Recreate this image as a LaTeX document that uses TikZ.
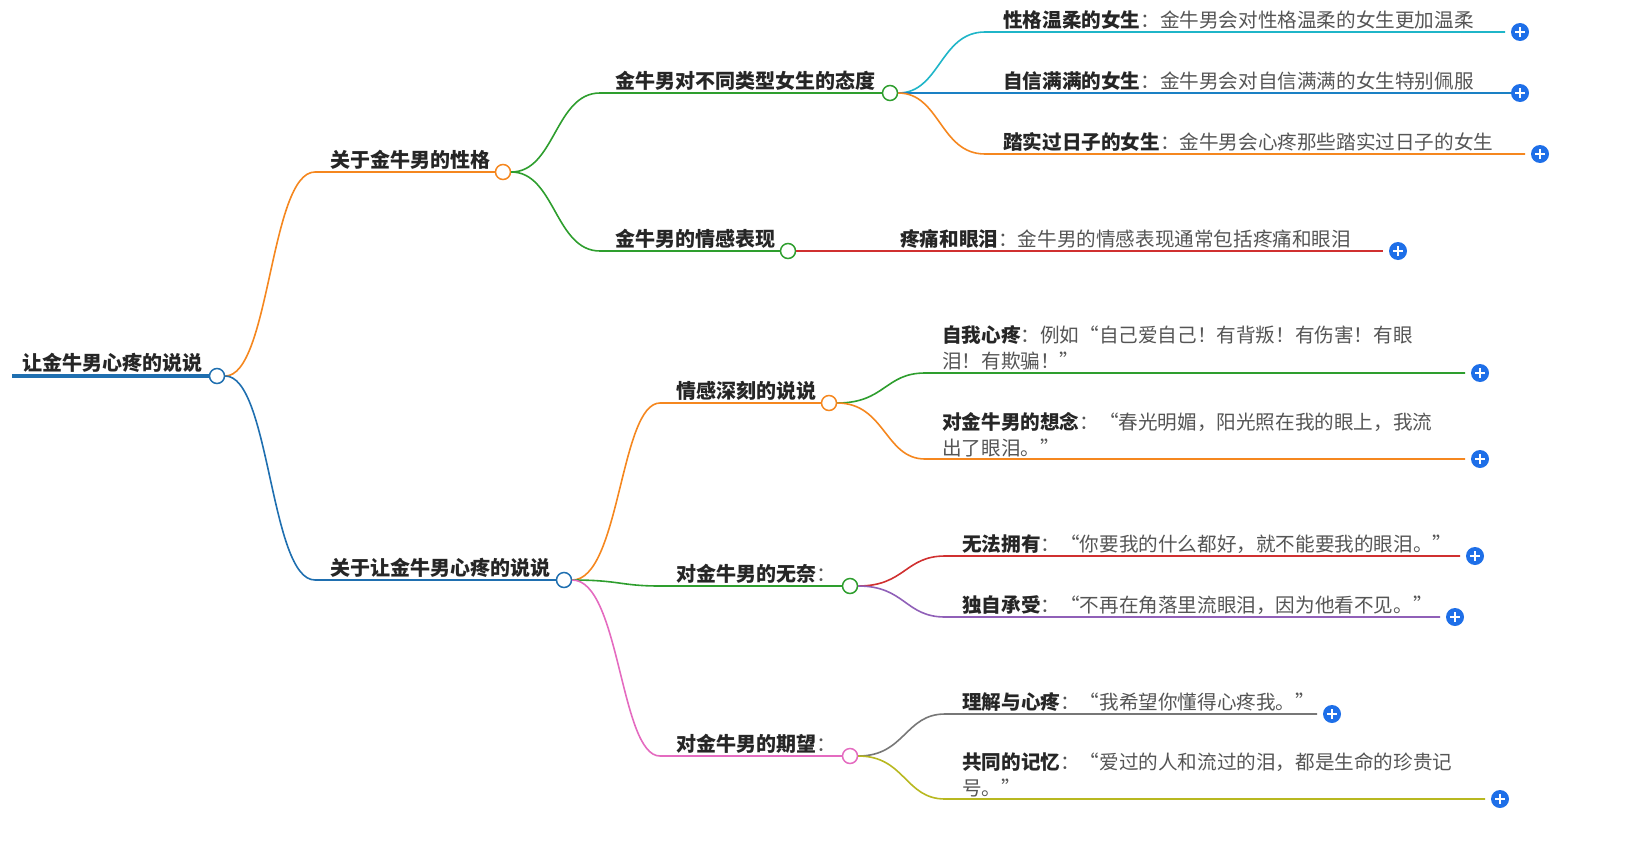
\documentclass[tikz,border=0pt]{standalone}
\usepackage{fontspec}
\setmainfont{Noto Sans CJK SC}
\definecolor{cBlue}{HTML}{1F6FB0}
\definecolor{cOrange}{HTML}{F5871F}
\definecolor{cGreen}{HTML}{2E9E2E}
\definecolor{cCyan}{HTML}{1FB5C8}
\definecolor{cBlue2}{HTML}{1A80C4}
\definecolor{cRed}{HTML}{D03030}
\definecolor{cPink}{HTML}{E46BC0}
\definecolor{cPurple}{HTML}{9060B8}
\definecolor{cGray}{HTML}{777777}
\definecolor{cOlive}{HTML}{B8B820}
\definecolor{cPlus}{HTML}{1E6FE8}
\definecolor{cText}{HTML}{555555}
\begin{document}
\begin{tikzpicture}[x=1pt,y=-1pt,
  lbl/.style={anchor=base west,inner sep=0pt,font=\fontsize{20}{24}\selectfont\bfseries,text=black!85},
  leaf/.style={anchor=base west,inner sep=0pt,font=\fontsize{19.6}{26}\selectfont,text=cText,align=left},
  dot/.style={circle,draw=#1,fill=white,line width=1.5pt,minimum size=15pt,inner sep=0pt},
  edge/.style={draw=#1,line width=1.6pt},
  plus/.style={circle,fill=cPlus,minimum size=18pt,inner sep=0pt,path picture={\draw[white,line width=1.8pt] ([xshift=-5pt]path picture bounding box.center)--([xshift=5pt]path picture bounding box.center) ([yshift=-5pt]path picture bounding box.center)--([yshift=5pt]path picture bounding box.center);}}]
\useasboundingbox (0,0) rectangle (1627,846);
% root
\node[lbl] (root) at (22,370) {让金牛男心疼的说说};
\coordinate (r0) at (12,376);
\node[dot=cBlue] (rc) at (217,376) {};
\draw[cBlue,line width=4pt] (r0) -- (rc.west);
% level 1
\node[dot=cOrange] (a) at (503,172) {};
\node[lbl] (at) at (330,167) {关于金牛男的性格};
\coordinate (a0) at (315,172);
\draw[edge=cOrange] (rc.east) .. controls (270,376) and (270,172) .. (a0) -- (a.west);
\node[dot=cBlue] (b) at (564,580) {};
\node[lbl] (bt) at (330,575) {关于让金牛男心疼的说说};
\coordinate (b0) at (315,580);
\draw[edge=cBlue] (rc.east) .. controls (270,376) and (270,580) .. (b0) -- (b.west);
% level 2 under a
\node[dot=cGreen] (a1) at (890,93) {};
\node[lbl] at (615,88) {金牛男对不同类型女生的态度};
\coordinate (a10) at (600,93);
\draw[edge=cGreen] (a.east) .. controls (555,172) and (555,93) .. (a10) -- (a1.west);
\node[dot=cGreen] (a2) at (788,251) {};
\node[lbl] at (615,246) {金牛男的情感表现};
\coordinate (a20) at (600,251);
\draw[edge=cGreen] (a.east) .. controls (555,172) and (555,251) .. (a20) -- (a2.west);
% leaves under a1
\node[plus] (p1) at (1520,32) {};
\node[leaf] at (1003,27) {\textbf{\color{black!85}性格温柔的女生}：金牛男会对性格温柔的女生更加温柔};
\draw[edge=cCyan] (a1.east) .. controls (940,93) and (940,32) .. (985,32) -- (1505,32);
\node[plus] (p2) at (1520,93) {};
\node[leaf] at (1003,88) {\textbf{\color{black!85}自信满满的女生}：金牛男会对自信满满的女生特别佩服};
\draw[edge=cBlue2] (a1.east) -- (p2.west);
\node[plus] (p3) at (1540,154) {};
\node[leaf] at (1003,149) {\textbf{\color{black!85}踏实过日子的女生}：金牛男会心疼那些踏实过日子的女生};
\draw[edge=cOrange] (a1.east) .. controls (940,93) and (940,154) .. (985,154) -- (1525,154);
\node[plus] (p4) at (1398,251) {};
\node[leaf] at (900,246) {\textbf{\color{black!85}疼痛和眼泪}：金牛男的情感表现通常包括疼痛和眼泪};
\draw[edge=cRed] (a2.east) -- (1383,251);
% level 2 under b
\node[dot=cOrange] (b1) at (829,403) {};
\node[lbl] at (676,398) {情感深刻的说说};
\draw[edge=cOrange] (b.east) .. controls (620,580) and (620,403) .. (660,403) -- (b1.west);
\node[dot=cGreen] (b2) at (850,586) {};
\node[lbl] at (676,581) {对金牛男的无奈\textmd{\color{cText}：}};
\draw[edge=cGreen] (b.east) .. controls (620,580) and (620,586) .. (660,586) -- (b2.west);
\node[dot=cPink] (b3) at (850,756) {};
\node[lbl] at (676,751) {对金牛男的期望\textmd{\color{cText}：}};
\draw[edge=cPink] (b.east) .. controls (620,580) and (620,756) .. (660,756) -- (b3.west);
% leaves under b1
\node[plus] (q1) at (1480,373) {};
\node[leaf] at (942,368) {\textbf{\color{black!85}自我心疼}：例如“自己爱自己！有背叛！有伤害！有眼\\泪！有欺骗！”};
\draw[edge=cGreen] (b1.east) .. controls (885,403) and (885,373) .. (925,373) -- (1465,373);
\node[plus] (q2) at (1480,459) {};
\node[leaf] at (942,455) {\textbf{\color{black!85}对金牛男的想念}：“春光明媚，阳光照在我的眼上，我流\\出了眼泪。”};
\draw[edge=cOrange] (b1.east) .. controls (885,403) and (885,459) .. (925,459) -- (1465,459);
% leaves under b2
\node[plus] (q3) at (1475,556) {};
\node[leaf] at (962,551) {\textbf{\color{black!85}无法拥有}：“你要我的什么都好，就不能要我的眼泪。”};
\draw[edge=cRed] (b2.east) .. controls (905,586) and (905,556) .. (945,556) -- (1460,556);
\node[plus] (q4) at (1455,617) {};
\node[leaf] at (962,612) {\textbf{\color{black!85}独自承受}：“不再在角落里流眼泪，因为他看不见。”};
\draw[edge=cPurple] (b2.east) .. controls (905,586) and (905,617) .. (945,617) -- (1440,617);
% leaves under b3
\node[plus] (q5) at (1332,714) {};
\node[leaf] at (962,709) {\textbf{\color{black!85}理解与心疼}：“我希望你懂得心疼我。”};
\draw[edge=cGray] (b3.east) .. controls (905,756) and (905,714) .. (945,714) -- (1317,714);
\node[plus] (q6) at (1500,799) {};
\node[leaf] at (962,795) {\textbf{\color{black!85}共同的记忆}：“爱过的人和流过的泪，都是生命的珍贵记\\号。”};
\draw[edge=cOlive] (b3.east) .. controls (905,756) and (905,799) .. (945,799) -- (1485,799);
\end{tikzpicture}
\end{document}
